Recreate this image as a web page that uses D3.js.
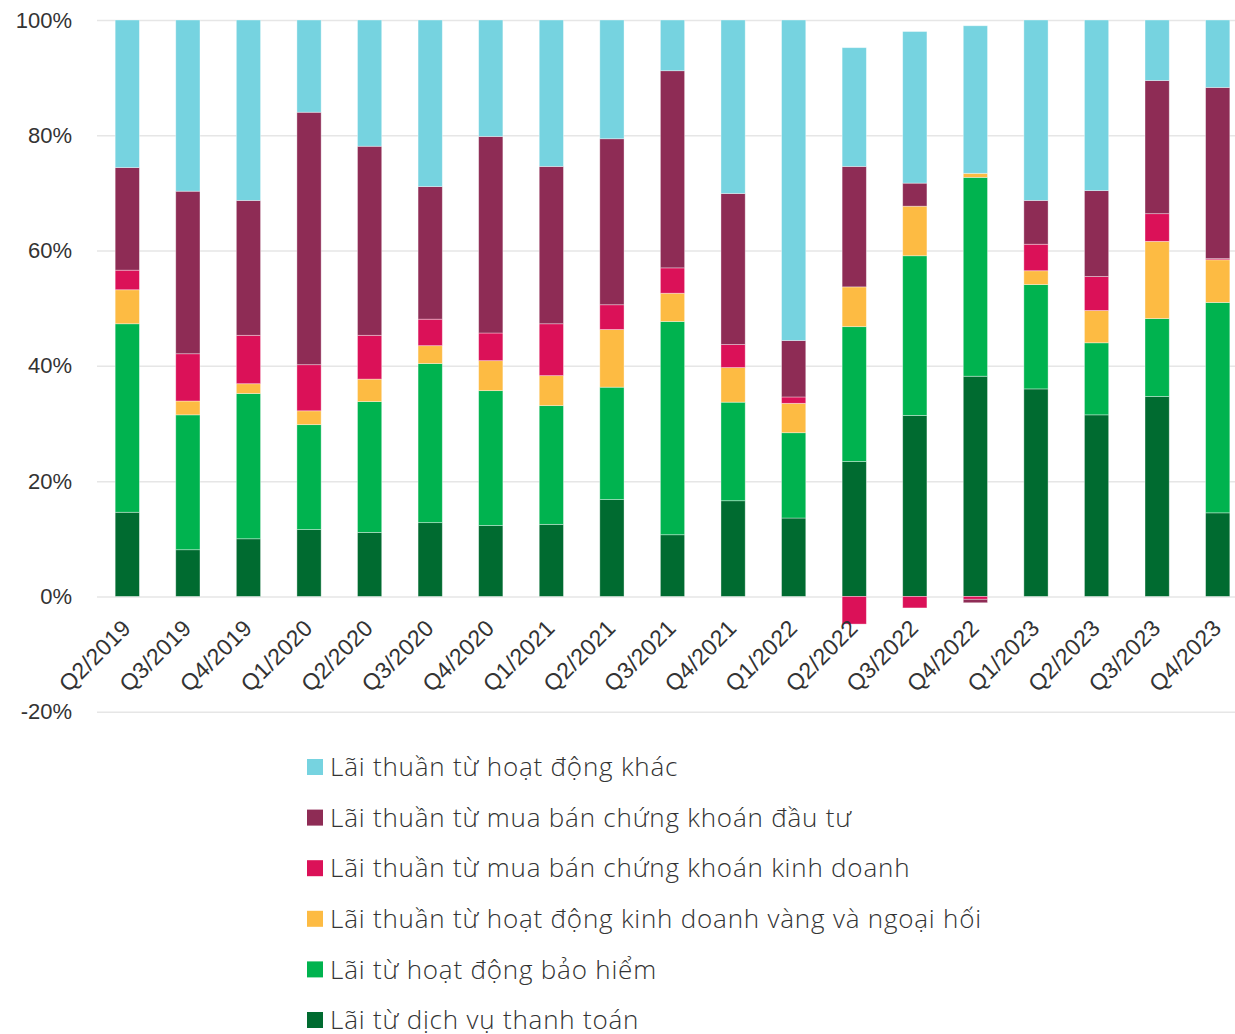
<!DOCTYPE html>
<html>
<head>
<meta charset="utf-8">
<script src="https://cdn.jsdelivr.net/npm/d3@7"></script>
<style>
  html, body { margin: 0; padding: 0; background: #fff; }
  svg { display: block; font-family: "Open Sans", "Noto Sans", sans-serif; font-weight: 300; }
</style>
</head>
<body>
<div id="chart"></div>
<script>
// quarters on the x axis
const quarters = ["Q2/2019","Q3/2019","Q4/2019","Q1/2020","Q2/2020","Q3/2020","Q4/2020",
  "Q1/2021","Q2/2021","Q3/2021","Q4/2021","Q1/2022","Q2/2022","Q3/2022","Q4/2022",
  "Q1/2023","Q2/2023","Q3/2023","Q4/2023"];

// share of non-interest income, % (bottom to top of the stack)
const thanhToan = [14.6, 8.1, 10.0, 11.6, 11.1, 12.8, 12.3, 12.5, 16.8, 10.7, 16.6, 13.6, 23.4, 31.4, 38.2, 36.0, 31.5, 34.7, 14.5];
const baoHiem   = [32.7, 23.4, 25.2, 18.2, 22.7, 27.6, 23.4, 20.6, 19.5, 37.0, 17.1, 14.8, 23.4, 27.7, 34.5, 18.1, 12.5, 13.5, 36.5];
const vangNgoaiHoi = [5.9, 2.4, 1.7, 2.4, 3.9, 3.1, 5.2, 5.2, 10.0, 4.9, 6.0, 5.1, 6.9, 8.6, 0.7, 2.4, 5.6, 13.4, 7.4];
const ckKinhDoanh = [3.4, 8.2, 8.4, 8.0, 7.6, 4.6, 4.8, 9.0, 4.3, 4.4, 4.0, 1.1, -4.8, -2.0, -0.5, 4.6, 5.9, 4.8, 0.2];
const ckDauTu   = [17.8, 28.2, 23.4, 43.8, 32.8, 23.0, 34.1, 27.3, 28.8, 34.2, 26.2, 9.8, 20.9, 4.0, -0.6, 7.6, 14.9, 23.1, 29.7];
const hoatDongKhac = [25.6, 29.7, 31.3, 16.0, 21.9, 28.9, 20.2, 25.4, 20.6, 8.8, 30.1, 55.6, 20.6, 26.3, 25.6, 31.3, 29.6, 10.5, 11.7];

const yTicks = [-20, 0, 20, 40, 60, 80, 100];

const series = [
  { key: "thanhToan",    label: "Lãi từ dịch vụ thanh toán",                          color: "#006b30", values: thanhToan },
  { key: "baoHiem",      label: "Lãi từ hoạt động bảo hiểm",                          color: "#00b34f", values: baoHiem },
  { key: "vangNgoaiHoi", label: "Lãi thuần từ hoạt động kinh doanh vàng và ngoại hối", color: "#fdbb43", values: vangNgoaiHoi },
  { key: "ckKinhDoanh",  label: "Lãi thuần từ mua bán chứng khoán kinh doanh",        color: "#db1158", values: ckKinhDoanh },
  { key: "ckDauTu",      label: "Lãi thuần từ mua bán chứng khoán đầu tư",            color: "#8e2c55", values: ckDauTu },
  { key: "hoatDongKhac", label: "Lãi thuần từ hoạt động khác",                        color: "#76d3e0", values: hoatDongKhac }
];

const W = 1235, H = 1034;

// table for d3.stack
const rows = quarters.map((q, i) => {
  const r = { quarter: q };
  series.forEach(s => { r[s.key] = s.values[i]; });
  return r;
});

const stacked = d3.stack()
  .keys(series.map(s => s.key))
  .offset(d3.stackOffsetDiverging)(rows);

const svg = d3.select("#chart").append("svg")
  .attr("width", W).attr("height", H);

const x = d3.scaleBand()
  .domain(quarters)
  .range([97, 1248])
  .paddingInner(0.6)
  .paddingOuter(0.3);

const y = d3.scaleLinear()
  .domain([-20, 100])
  .range([711.7, 20]);

// ── Grid + y labels ────────────────────────────────────────────
const yAxis = svg.append("g")
  .attr("transform", "translate(97,0)")
  .call(d3.axisLeft(y).tickValues(yTicks).tickSize(-1151).tickPadding(25).tickFormat(d => d + "%"));
yAxis.select(".domain").remove();
yAxis.selectAll(".tick line").attr("stroke", "#e6e6e6").attr("stroke-width", 1.5);
yAxis.selectAll(".tick text")
  .attr("fill", "#333").style("font-size", "22px");

// ── Bars ───────────────────────────────────────────────────────
const colorOf = d3.scaleOrdinal().domain(series.map(s => s.key)).range(series.map(s => s.color));

svg.append("g").selectAll("g")
  .data(stacked)
  .join("g")
  .attr("fill", d => colorOf(d.key))
  .selectAll("rect")
  .data(d => d)
  .join("rect")
  .attr("x", d => x(d.data.quarter))
  .attr("width", x.bandwidth())
  .attr("y", d => y(Math.max(d[0], d[1])))
  .attr("height", d => Math.abs(y(d[0]) - y(d[1])))
  .attr("stroke", "#fff")
  .attr("stroke-opacity", 0.45)
  .attr("stroke-width", 0.8);

// ── X labels ───────────────────────────────────────────────────
const xAxis = svg.append("g")
  .attr("transform", `translate(0,${y(0)})`)
  .call(d3.axisBottom(x).tickSize(0).tickPadding(0));
xAxis.select(".domain").remove();
xAxis.selectAll(".tick text")
  .attr("fill", "#333")
  .style("font-size", "23px")
  .style("letter-spacing", "0.3px")
  .attr("text-anchor", "end")
  .attr("dy", null)
  .attr("y", 0)
  .attr("transform", "translate(5,33) rotate(-45)");

// ── Legend ─────────────────────────────────────────────────────
const legend = svg.append("g").attr("transform", "translate(307,767)");
series.slice().reverse().forEach((s, i) => {
  const row = legend.append("g").attr("transform", `translate(0,${i * 50.6})`);
  row.append("rect")
    .attr("x", 0).attr("y", -8).attr("width", 16).attr("height", 16)
    .attr("fill", s.color);
  row.append("text")
    .attr("x", 23).attr("y", 0).attr("dy", "0.35em")
    .attr("fill", "#333")
    .style("font-size", "26px")
    .style("letter-spacing", "0.8px")
    .text(s.label);
});
</script>
</body>
</html>
